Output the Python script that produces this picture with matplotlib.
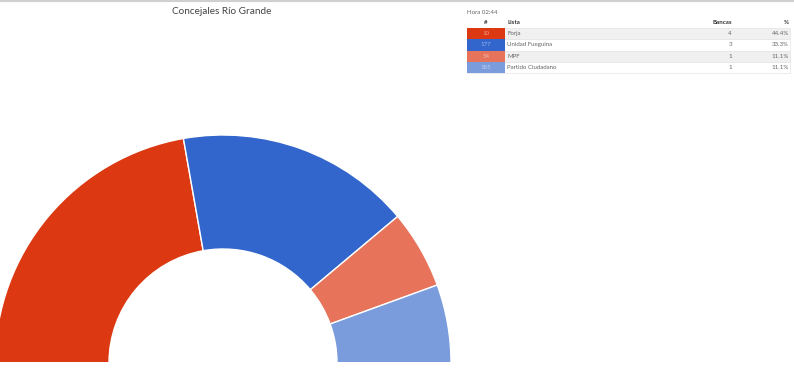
import matplotlib
matplotlib.use("Agg")
import matplotlib.pyplot as plt
from matplotlib.patches import Rectangle

plt.rcParams['font.family'] = ['Lato', 'DejaVu Sans']

# data
partidos = ["Forja", "Unidad Fueguina", "MPF", "Partido Ciudadano"]
numeros = ["10", "177", "54", "185"]
bancas = [4, 3, 1, 1]
porcentajes = ["44.4%", "33.3%", "11.1%", "11.1%"]
colores = ["#dc3912", "#3366cc", "#e6735a", "#7b9cdc"]
hora = "Hora 02:44"
titulo = "Concejales Río Grande"

W, H = 794, 369
fig = plt.figure(figsize=(W / 100, H / 100), dpi=100)
ax = fig.add_axes([0, 0, 1, 1])

# half donut: hidden bottom half = sum of seats
total = sum(bancas)
ax.pie(bancas + [total], colors=colores + ["white"], startangle=180,
       counterclock=False, radius=228, center=(223, H - 363),
       wedgeprops=dict(width=114, edgecolor="white", linewidth=1.0))
# cover the lower half
ax.add_patch(Rectangle((0, 0), W, H - 362, facecolor="white", edgecolor="none", zorder=5))

ax.set_xlim(0, W)
ax.set_ylim(0, H)
ax.set_aspect("auto")
ax.axis("off")

# top border
ax.plot([0, W], [H - 1, H - 1], color="#d0d0d0", lw=1.5, zorder=6)

ax.text(222, H - 12, titulo, ha="center", va="center", fontsize=7.2, color="#444444")

# table
fs = 4.4
ax.text(467, H - 12, hora, ha="left", va="center", fontsize=fs, color="#666666")
ty = H - 22
ax.text(486, ty, "#", ha="center", va="center", fontsize=fs, color="#333333", weight="bold")
ax.text(507, ty, "Lista", ha="left", va="center", fontsize=fs, color="#333333", weight="bold")
ax.text(732, ty, "Bancas", ha="right", va="center", fontsize=fs, color="#333333", weight="bold")
ax.text(789, ty, "%", ha="right", va="center", fontsize=fs, color="#333333", weight="bold")

row_h = 11.3
top = H - 28
for i, (p, n, b, pc, c) in enumerate(zip(partidos, numeros, bancas, porcentajes, colores)):
    y0 = top - (i + 1) * row_h
    bg = "#f0f0f0" if i % 2 == 0 else "#ffffff"
    ax.add_patch(Rectangle((467, y0), 323, row_h, facecolor=bg, edgecolor="#e4e4e4", lw=0.5))
    ax.add_patch(Rectangle((467, y0), 38, row_h, facecolor=c, edgecolor="none"))
    yc = y0 + row_h / 2
    ax.text(486, yc, n, ha="center", va="center", fontsize=fs, color="#ffffff", alpha=0.5)
    ax.text(507, yc, p, ha="left", va="center", fontsize=fs, color="#666666")
    ax.text(732, yc, str(b), ha="right", va="center", fontsize=fs, color="#666666")
    ax.text(789, yc, pc, ha="right", va="center", fontsize=fs, color="#666666")

fig.savefig("out.png", dpi=100)
